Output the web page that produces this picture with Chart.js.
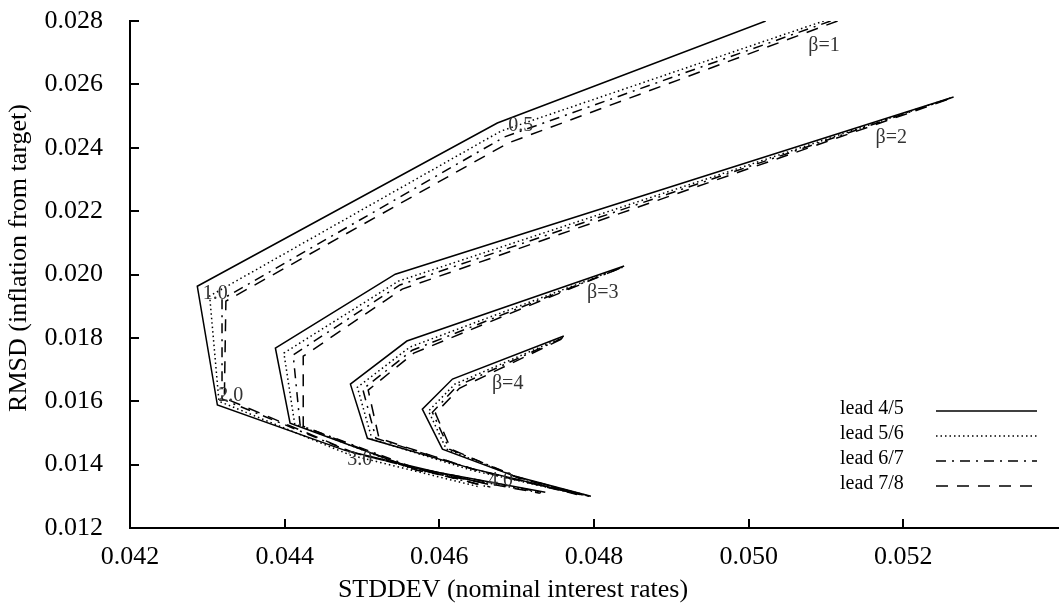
<!DOCTYPE html>
<html>
<head>
<meta charset="utf-8">
<script src="https://cdn.jsdelivr.net/npm/chart.js@4.4.1/dist/chart.umd.min.js"></script>
<style>
  html, body { margin: 0; padding: 0; background: #fff; }
  #wrap { width: 1060px; height: 609px; }
</style>
</head>
<body>
<div id="wrap"><canvas id="frontier"></canvas></div>
<script>
// Policy frontiers: [STDDEV nominal rate, RMSD inflation] per lead horizon
const leadLabels = ['lead 4/5', 'lead 5/6', 'lead 6/7', 'lead 7/8'];

const beta1Lead45 = [[0.05022, 0.0280], [0.04675, 0.02478], [0.04287, 0.01963], [0.04313, 0.01588], [0.04478, 0.01445], [0.04663, 0.01338]];
const beta1Lead56 = [[0.05097, 0.0280], [0.04680, 0.02453], [0.04303, 0.01932], [0.04315, 0.01600], [0.04485, 0.01430], [0.04653, 0.01329]];
const beta1Lead67 = [[0.05106, 0.0280], [0.04684, 0.02434], [0.04319, 0.01922], [0.04319, 0.01607], [0.04487, 0.01439], [0.04659, 0.01332]];
const beta1Lead78 = [[0.05115, 0.0280], [0.04689, 0.02415], [0.04324, 0.01916], [0.04322, 0.01610], [0.04491, 0.01436], [0.04666, 0.01329]];

const beta2Lead45 = [[0.05265, 0.02560], [0.04543, 0.02001], [0.04388, 0.01768], [0.04407, 0.01531], [0.04562, 0.01392], [0.04737, 0.01313]];
const beta2Lead56 = [[0.05261, 0.02557], [0.04547, 0.01979], [0.04399, 0.01752], [0.04413, 0.01528], [0.04566, 0.01385], [0.04734, 0.01310]];
const beta2Lead67 = [[0.05258, 0.02554], [0.04549, 0.01967], [0.04411, 0.01746], [0.04420, 0.01524], [0.04569, 0.01389], [0.04732, 0.01313]];
const beta2Lead78 = [[0.05256, 0.02551], [0.04552, 0.01954], [0.04424, 0.01742], [0.04424, 0.01521], [0.04571, 0.01382], [0.04730, 0.01310]];

const beta3Lead45 = [[0.04839, 0.02027], [0.04558, 0.01790], [0.04485, 0.01654], [0.04507, 0.01483], [0.04640, 0.01389], [0.04782, 0.01306]];
const beta3Lead56 = [[0.04837, 0.02023], [0.04562, 0.01771], [0.04494, 0.01644], [0.04513, 0.01480], [0.04642, 0.01382], [0.04781, 0.01306]];
const beta3Lead67 = [[0.04834, 0.02020], [0.04565, 0.01761], [0.04501, 0.01638], [0.04518, 0.01483], [0.04645, 0.01385], [0.04780, 0.01306]];
const beta3Lead78 = [[0.04831, 0.02017], [0.04567, 0.01752], [0.04508, 0.01635], [0.04522, 0.01483], [0.04648, 0.01382], [0.04778, 0.01306]];

const beta4Lead45 = [[0.04761, 0.01806], [0.04617, 0.01670], [0.04578, 0.01575], [0.04604, 0.01449], [0.04698, 0.01363], [0.04796, 0.01300]];
const beta4Lead56 = [[0.04760, 0.01802], [0.04620, 0.01654], [0.04586, 0.01569], [0.04609, 0.01449], [0.04701, 0.01360], [0.04795, 0.01300]];
const beta4Lead67 = [[0.04759, 0.01799], [0.04623, 0.01648], [0.04591, 0.01565], [0.04613, 0.01449], [0.04702, 0.01360], [0.04794, 0.01300]];
const beta4Lead78 = [[0.04758, 0.01796], [0.04626, 0.01641], [0.04595, 0.01562], [0.04615, 0.01449], [0.04703, 0.01357], [0.04792, 0.01300]];

const xTicks = [0.042, 0.044, 0.046, 0.048, 0.050, 0.052];
const yTicks = [0.012, 0.014, 0.016, 0.018, 0.020, 0.022, 0.024, 0.026, 0.028];

const xTitle = 'STDDEV (nominal interest rates)';
const yTitle = 'RMSD (inflation from target)';

// curve labels: [text, x, y]
const curveNotes = [
    ['\u03b2=1', 0.05077, 0.02722],
    ['\u03b2=2', 0.05164, 0.02431],
    ['\u03b2=3', 0.04791, 0.01941],
    ['\u03b2=4', 0.04668, 0.01654],
    ['0.5', 0.04689, 0.02469],
    ['1.0', 0.04294, 0.01938],
    ['2.0', 0.04314, 0.01616],
    ['3.0', 0.04481, 0.01414],
    ['4.0', 0.04663, 0.01348]
];

const serif = '"Liberation Serif", "DejaVu Serif", serif';
const leadDashes = [[], [1.5, 3], [10, 6, 2, 6], [12, 9]];

const groups = [
    [beta1Lead45, beta1Lead56, beta1Lead67, beta1Lead78],
    [beta2Lead45, beta2Lead56, beta2Lead67, beta2Lead78],
    [beta3Lead45, beta3Lead56, beta3Lead67, beta3Lead78],
    [beta4Lead45, beta4Lead56, beta4Lead67, beta4Lead78]
];

const datasets = [];
groups.forEach(function(group) {
    group.forEach(function(pts, i) {
        datasets.push({
            label: leadLabels[i],
            data: pts.map(p => ({ x: p[0], y: p[1] })),
            borderColor: '#000',
            borderWidth: 1.5,
            borderDash: leadDashes[i],
            pointRadius: 0,
            fill: false,
            tension: 0
        });
    });
});

// ticks point into the plot, like the original
const innerTicks = {
    id: 'innerTicks',
    afterDraw(chart) {
        const ctx = chart.ctx;
        const xs = chart.scales.x, ys = chart.scales.y;
        const area = chart.chartArea;
        ctx.save();
        ctx.strokeStyle = '#000';
        ctx.lineWidth = 2;
        ctx.beginPath();
        xTicks.forEach(v => {
            const px = Math.round(xs.getPixelForValue(v));
            ctx.moveTo(px, area.bottom);
            ctx.lineTo(px, area.bottom - 9);
        });
        yTicks.forEach(v => {
            const py = Math.round(ys.getPixelForValue(v));
            ctx.moveTo(area.left, py);
            ctx.lineTo(area.left + 9, py);
        });
        ctx.stroke();
        ctx.restore();
    }
};

// axis titles sit a little off the plot centre in the original
const axisTitles = {
    id: 'axisTitles',
    afterDraw(chart) {
        const ctx = chart.ctx;
        ctx.save();
        ctx.font = '26px ' + serif;
        ctx.fillStyle = '#000';
        ctx.textAlign = 'center';
        ctx.textBaseline = 'middle';
        ctx.fillText(xTitle, 513, 590);
        ctx.translate(19, 258);
        ctx.rotate(-Math.PI / 2);
        ctx.fillText(yTitle, 0, 0);
        ctx.restore();
    }
};

// beta / weight labels next to the curves
const notes = {
    id: 'notes',
    afterDatasetsDraw(chart) {
        const ctx = chart.ctx;
        ctx.save();
        ctx.font = '20px ' + serif;
        ctx.fillStyle = '#333';
        ctx.textAlign = 'left';
        ctx.textBaseline = 'middle';
        curveNotes.forEach(n => {
            ctx.fillText(n[0], chart.scales.x.getPixelForValue(n[1]), chart.scales.y.getPixelForValue(n[2]));
        });
        ctx.restore();
    }
};

// legend in the lower right corner: text first, line sample after
const leadLegend = {
    id: 'leadLegend',
    afterDraw(chart) {
        const ctx = chart.ctx;
        const rows = [409, 434, 459, 484];
        ctx.save();
        ctx.font = '20px ' + serif;
        ctx.fillStyle = '#000';
        ctx.textBaseline = 'middle';
        ctx.strokeStyle = '#000';
        ctx.lineWidth = 1.5;
        leadLabels.forEach((lab, i) => {
            ctx.fillText(lab, 840, rows[i]);
            ctx.setLineDash(leadDashes[i]);
            ctx.beginPath();
            ctx.moveTo(936, rows[i] + 2);
            ctx.lineTo(1037, rows[i] + 2);
            ctx.stroke();
        });
        ctx.restore();
    }
};

new Chart(document.getElementById('frontier'), {
    type: 'line',
    data: { datasets: datasets },
    options: {
        responsive: true,
        maintainAspectRatio: false,
        animation: false,
        layout: { padding: { top: 21, right: 2, left: 0, bottom: 0 } },
        plugins: {
            legend: { display: false },
            tooltip: { enabled: false }
        },
        scales: {
            x: {
                type: 'linear',
                min: 0.042,
                max: 0.054,
                afterBuildTicks: s => { s.ticks = xTicks.map(v => ({ value: v })); },
                afterFit: s => { s.height = 81; s.paddingLeft = 0; s.paddingRight = 0; },
                grid: { display: false, drawTicks: false },
                border: { display: true, color: '#000', width: 2 },
                ticks: {
                    color: '#000',
                    padding: 14,
                    maxRotation: 0,
                    font: { family: serif, size: 26 },
                    callback: v => v.toFixed(3)
                }
            },
            y: {
                type: 'linear',
                min: 0.012,
                max: 0.028,
                afterBuildTicks: s => { s.ticks = yTicks.map(v => ({ value: v })); },
                // keep the plot top at 21px; label overhang is not needed
                afterFit: s => { s.width = 130; s.paddingTop = 0; s.paddingBottom = 0; },
                grid: { display: false, drawTicks: false },
                border: { display: true, color: '#000', width: 2 },
                ticks: {
                    color: '#000',
                    padding: 27,
                    font: { family: serif, size: 26 },
                    callback: v => v.toFixed(3)
                }
            }
        }
    },
    plugins: [innerTicks, notes, leadLegend, axisTitles]
});
</script>
</body>
</html>
